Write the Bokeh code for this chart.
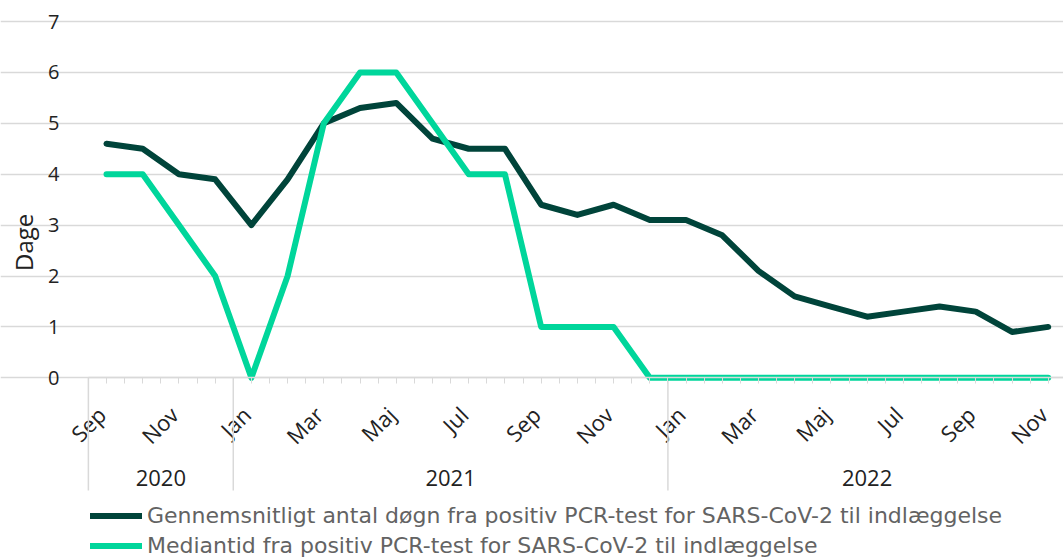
import math
from bokeh.plotting import figure
from bokeh.models import (FixedTicker, LinearAxis, Legend, LegendItem,
                          Range1d, Grid)
from bokeh.embed import file_html
from bokeh.resources import INLINE
from bokeh.core.properties import value

# ---------------- data ----------------
months = ["Sep", "Okt", "Nov", "Dec",
          "Jan", "Feb", "Mar", "Apr", "Maj", "Jun", "Jul", "Aug", "Sep", "Okt", "Nov", "Dec",
          "Jan", "Feb", "Mar", "Apr", "Maj", "Jun", "Jul", "Aug", "Sep", "Okt", "Nov"]
years = [2020] * 4 + [2021] * 12 + [2022] * 11
avg_days = [4.6, 4.5, 4.0, 3.9,
            3.0, 3.9, 5.0, 5.3, 5.4, 4.7, 4.5, 4.5, 3.4, 3.2, 3.4, 3.1,
            3.1, 2.8, 2.1, 1.6, 1.4, 1.2, 1.3, 1.4, 1.3, 0.9, 1.0]
median_days = [4, 4, 3, 2,
               0, 2, 5, 6, 6, 5, 4, 4, 1, 1, 1, 0,
               0, 0, 0, 0, 0, 0, 0, 0, 0, 0, 0]
series_names = ["Gennemsnitligt antal døgn fra positiv PCR-test for SARS-CoV-2 til indlæggelse",
                "Mediantid fra positiv PCR-test for SARS-CoV-2 til indlæggelse"]
y_ticks = [0, 1, 2, 3, 4, 5, 6, 7]
y_title = "Dage"

# ---------------- style ----------------
FONT = "Open Sans"
LEG_FONT = "DejaVu Sans"
DARK = "#00443A"
LIGHT = "#00D69B"
GRID = "#d9d9d9"
TXT = "#222222"
LEG_TXT = "#636363"

W, H = 1063, 557
PX_PER_MONTH = 36.22
PX_PER_UNIT = 50.9
FIRST_X = 106.0       # pixel of first month
ZERO_Y = 377.3        # pixel of value 0

x_start = -FIRST_X / PX_PER_MONTH
x_end = x_start + W / PX_PER_MONTH
y_max = ZERO_Y / PX_PER_UNIT
y_min = -(H - ZERO_Y) / PX_PER_UNIT

n = len(months)
idx = list(range(n))
axis_lo, axis_hi = -0.5, n - 0.5

p = figure(width=W, height=H, output_backend="svg", toolbar_location=None,
           x_range=Range1d(x_start, x_end), y_range=Range1d(y_min, y_max),
           x_axis_location=None, y_axis_location=None,
           min_border_left=0, min_border_right=0,
           min_border_top=0, min_border_bottom=0)
p.outline_line_color = None
p.background_fill_color = "white"
p.border_fill_color = "white"
p.center = [r for r in p.center if not isinstance(r, Grid)]

# y axis (fixed at the left end of the x axis) + horizontal grid
yaxis = LinearAxis(fixed_location=axis_lo, ticker=FixedTicker(ticks=y_ticks))
yaxis.axis_line_color = None
yaxis.major_tick_line_color = None
yaxis.minor_tick_line_color = None
yaxis.major_label_standoff = 23
yaxis.major_label_text_font = FONT
yaxis.major_label_text_font_size = "20px"
yaxis.major_label_text_color = TXT
p.add_layout(yaxis, "left")
p.add_layout(Grid(dimension=1, ticker=FixedTicker(ticks=y_ticks), bounds=(axis_lo, axis_hi),
                  grid_line_color=GRID, grid_line_width=1.5))

# x axis at y = 0 (line and half-month ticks)
minor = [i * 0.5 for i in range(0, 2 * (n - 1) + 1)]
xaxis = LinearAxis(fixed_location=0, bounds=(axis_lo, axis_hi),
                   ticker=FixedTicker(ticks=[], minor_ticks=minor))
xaxis.axis_line_color = GRID
xaxis.axis_line_width = 1.5
xaxis.major_tick_line_color = GRID
xaxis.minor_tick_line_color = GRID
xaxis.major_tick_in = 0
xaxis.major_tick_out = 6
xaxis.minor_tick_in = 0
xaxis.minor_tick_out = 6
p.add_layout(xaxis, "below")

# month labels (every second month), rotated 45 degrees
major = idx[::2]
MONTH_DX = -5 / PX_PER_MONTH
MONTH_Y = -0.64
p.text(x=[i + MONTH_DX for i in major], y=[MONTH_Y] * len(major), text=[months[i] for i in major],
       angle=math.pi / 4, text_align="right", text_baseline="middle",
       text_font=value(FONT), text_font_size="22px", text_color=TXT)

# year groups: separators and labels
uniq_years = sorted(set(years))
bounds = [years.index(y) - 0.5 for y in uniq_years] + [n - 0.5]
centers = [(bounds[k] + bounds[k + 1]) / 2 for k in range(len(uniq_years))]
SEP_BOTTOM = -2.214
YEAR_Y = -1.978
p.segment(x0=bounds[:-1], y0=[0] * len(uniq_years), x1=bounds[:-1], y1=[SEP_BOTTOM] * len(uniq_years),
          line_color=GRID, line_width=1.5)
p.text(x=centers, y=[YEAR_Y] * len(centers), text=[str(y) for y in uniq_years],
       text_align="center", text_baseline="middle", text_font=value(FONT),
       text_font_size="22px", text_color=TXT)

# y title
p.text(x=[x_start + 23 / PX_PER_MONTH], y=[2.66], text=[y_title], angle=math.pi / 2,
       text_align="center", text_baseline="middle", text_font=value(FONT),
       text_font_size="24px", text_color=TXT)

# series
r1 = p.line(idx, avg_days, line_color=DARK, line_width=6, line_cap="round", line_join="round")
r2 = p.line(idx, median_days, line_color=LIGHT, line_width=6, line_cap="round", line_join="round")

# legend: one entry per legend box so the row pitch can match
ROW_H = 29
for k, (r, vy) in enumerate([(r1, H - (515.7 + ROW_H / 2)), (r2, H - (545.0 + ROW_H / 2))]):
    lg = Legend(items=[LegendItem(label=series_names[k], renderers=[r])],
                location=(90, vy), orientation="vertical",
                glyph_width=52, glyph_height=ROW_H, label_height=ROW_H,
                label_standoff=5, spacing=0, padding=0, margin=0,
                background_fill_alpha=0, border_line_alpha=0,
                label_text_font=LEG_FONT, label_text_font_size="22px",
                label_text_color=LEG_TXT)
    p.add_layout(lg, "center")

open("out.html", "w").write(file_html(p, INLINE))
